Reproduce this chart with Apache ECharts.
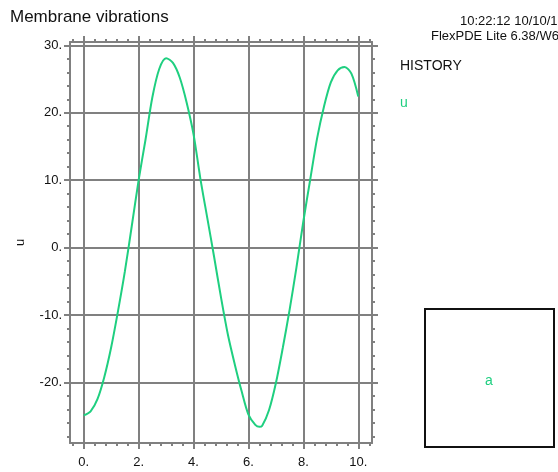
<!DOCTYPE html>
<html>
<head>
<meta charset="utf-8">
<script src="https://cdn.jsdelivr.net/npm/echarts@6/dist/echarts.min.js"></script>
<style>
  html, body { margin: 0; padding: 0; background: #fff; }
  #chart { width: 558px; height: 472px; }
</style>
</head>
<body>
<div id="chart"></div>
<script>
// 时间 t 与位移 u
const times = [0, 0.25, 0.5, 0.75, 1.0, 1.25, 1.5, 1.75, 2.0, 2.25, 2.5, 2.75, 3.0, 3.25, 3.5, 3.75,
  4.0, 4.25, 4.5, 4.75, 5.0, 5.25, 5.5, 5.75, 6.0, 6.25, 6.4, 6.5, 6.75, 7.0, 7.25, 7.5, 7.75,
  8.0, 8.25, 8.5, 8.75, 9.0, 9.25, 9.5, 9.75, 10.0];
const uValues = [-24.9, -24.3, -22.5, -19.2, -14.8, -9.4, -3.5, 3.2, 10.0, 16.0, 22.3, 26.5, 28.1, 27.4, 25.2, 21.5,
  16.8, 10.2, 4.4, -1.4, -7.4, -12.9, -17.3, -21.3, -24.8, -26.3, -26.6, -26.45, -24.1, -20.1, -14.9, -9.2, -2.9,
  3.9, 10.1, 16.2, 20.9, 24.5, 26.3, 26.8, 25.8, 22.4];

// 刻度
const xMajor = [0, 2, 4, 6, 8, 10];
const xMinor = [-0.4, 0.4, 0.8, 1.2, 1.6, 2.4, 2.8, 3.2, 3.6, 4.4, 4.8, 5.2, 5.6,
  6.4, 6.8, 7.2, 7.6, 8.4, 8.8, 9.2, 9.6, 10.4];
const yMajor = [-20, -10, 0, 10, 20, 30];
const yMinor = [-28, -26, -24, -22, -18, -16, -14, -12, -8, -6, -4, -2,
  2, 4, 6, 8, 12, 14, 16, 18, 22, 24, 26, 28];

const gray = '#808080';
const green = '#1fcf80';
const sans = '"Liberation Sans", Arial, sans-serif';

const chart = echarts.init(document.getElementById('chart'));

// 生成一条坐标轴
function axis(dim, position, ticks, len, opts) {
  const a = {
    type: 'value',
    position: position,
    min: dim === 'x' ? -0.5 : -29,
    max: dim === 'x' ? 10.5 : 30.5,
    axisLine: { show: !!opts.line, onZero: false, lineStyle: { color: gray, width: 2 } },
    axisTick: { show: true, inside: false, length: len, customValues: ticks,
      lineStyle: { color: gray, width: 2 } },
    axisLabel: { show: false },
    splitLine: { show: !!opts.split, lineStyle: { color: gray, width: 2 } }
  };
  if (opts.label) {
    a.axisLabel = {
      show: true,
      customValues: ticks,
      formatter: v => v + '.',
      color: '#111',
      fontFamily: sans,
      fontSize: 13,
      margin: dim === 'x' ? 13 : 8
    };
  }
  return a;
}

const xAxes = [
  axis('x', 'bottom', xMajor, 6, { line: true, split: true, label: true }),
  axis('x', 'bottom', xMinor, 3, {}),
  axis('x', 'top', xMajor, 6, { line: true }),
  axis('x', 'top', xMinor, 3, {})
];
const yAxes = [
  axis('y', 'left', yMajor, 6, { line: true, split: true, label: true }),
  axis('y', 'left', yMinor, 3, {}),
  axis('y', 'right', yMajor, 6, { line: true }),
  axis('y', 'right', yMinor, 3, {})
];
yAxes[0].name = 'u';
yAxes[0].nameLocation = 'middle';
yAxes[0].nameGap = 43;
yAxes[0].nameRotate = 90;
yAxes[0].nameTextStyle = { color: '#111', fontFamily: sans, fontSize: 13 };

chart.setOption({
  animation: false,
  backgroundColor: '#fff',
  title: {
    text: 'Membrane vibrations',
    left: 10,
    top: 9,
    padding: 0,
    textStyle: { color: '#111', fontFamily: sans, fontSize: 17, fontWeight: 'normal' }
  },
  grid: { left: 70, right: 186, top: 42, bottom: 29 },
  xAxis: xAxes,
  yAxis: yAxes,
  series: [{
    type: 'line',
    xAxisIndex: 0,
    yAxisIndex: 0,
    data: times.map((t, i) => [t, uValues[i]]),
    smooth: 0.3,
    showSymbol: false,
    lineStyle: { color: green, width: 2 }
  }],
  graphic: [
    { type: 'text', left: 460, top: 15, style: { text: '10:22:12 10/10/1', font: '13px ' + sans, fill: '#111' } },
    { type: 'text', left: 431, top: 30, style: { text: 'FlexPDE Lite 6.38/W6', font: '13px ' + sans, fill: '#111' } },
    { type: 'text', left: 400, top: 59, style: { text: 'HISTORY', font: '14px ' + sans, fill: '#111' } },
    { type: 'text', left: 400, top: 96, style: { text: 'u', font: '14px ' + sans, fill: green } },
    { type: 'rect', shape: { x: 425, y: 309, width: 129, height: 138 },
      style: { fill: 'none', stroke: '#111', lineWidth: 2 } },
    { type: 'text', x: 489, y: 381, style: { text: 'a', font: '14px ' + sans, fill: green,
      textAlign: 'center', textVerticalAlign: 'middle' } }
  ]
});
</script>
</body>
</html>
